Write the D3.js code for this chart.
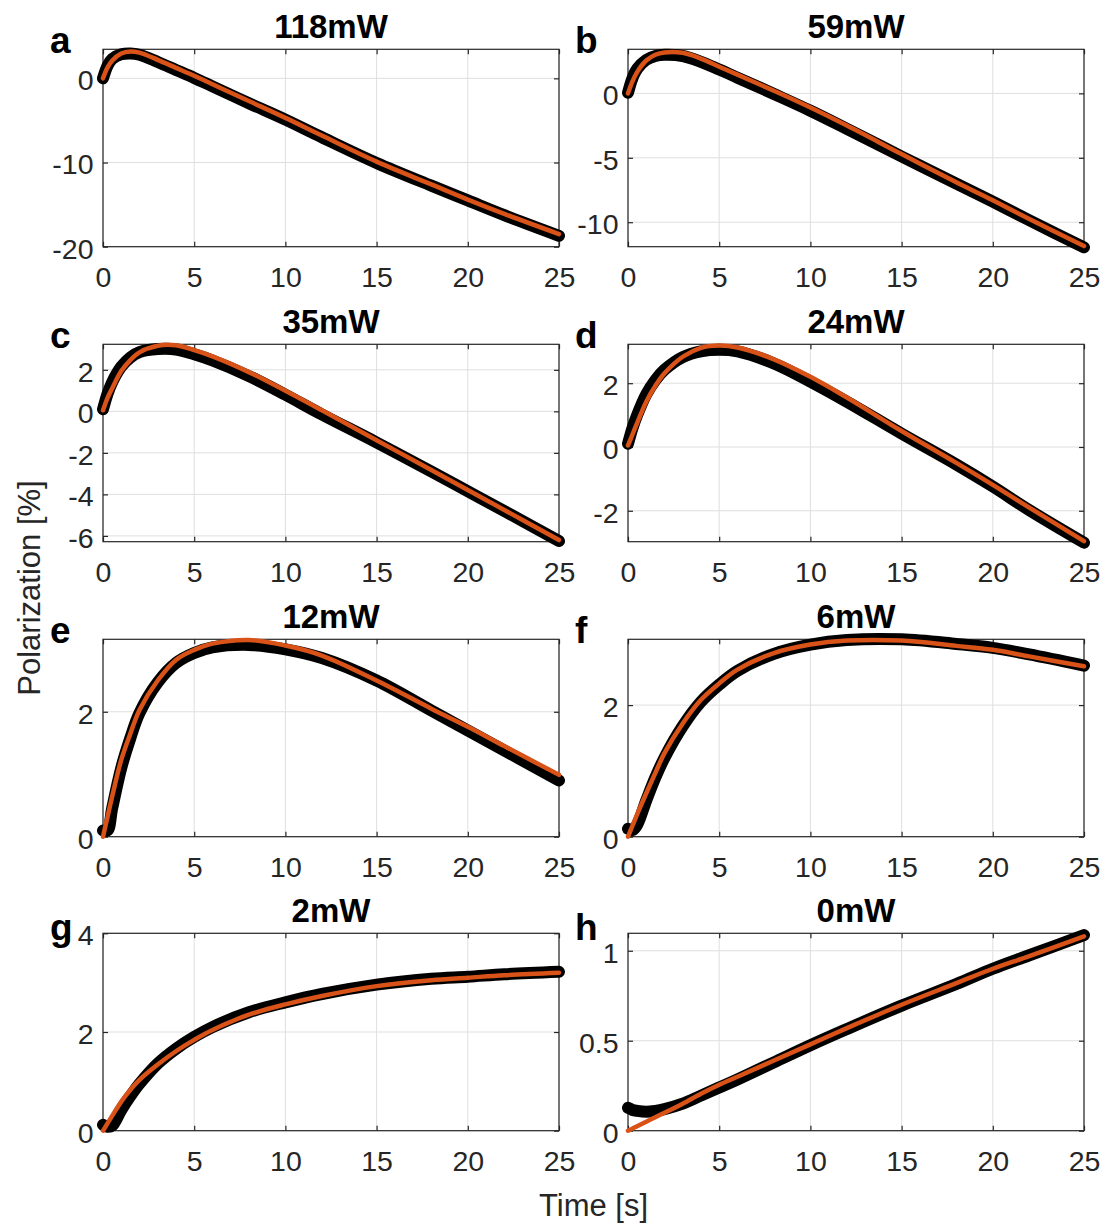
<!DOCTYPE html>
<html>
<head>
<meta charset="utf-8">
<script src="https://cdn.jsdelivr.net/npm/d3@7"></script>
<style>
  body { margin: 0; background: #fff; }
  text { font-family: "Liberation Sans", Arial, Helvetica, sans-serif; }
</style>
</head>
<body>
<script>
// Sample times (s) shared by every panel
var T = [0, 0.25, 0.5, 1, 1.5, 2, 3, 4, 5, 6, 8, 10, 12, 15, 18, 20, 22, 25];

// Panel letters and titles
var letters = ["a", "b", "c", "d", "e", "f", "g", "h"];
var titles = ["118mW", "59mW", "35mW", "24mW", "12mW", "6mW", "2mW", "0mW"];

// Measured polarization (%) - black markers
var measA = [0, 1.5, 2.3, 2.85, 2.95, 2.8, 1.95, 1.0, 0.05, -0.95, -2.95, -4.9, -7.0, -10.05, -12.75, -14.5, -16.25, -18.7];
var measB = [0.05, 1.2, 1.9, 2.6, 2.9, 3.0, 2.9, 2.45, 1.85, 1.22, -0.05, -1.35, -2.75, -4.9, -7.0, -8.4, -9.85, -11.95];
var measC = [0.1, 0.85, 1.4, 2.15, 2.6, 2.85, 3.0, 2.98, 2.75, 2.45, 1.7, 0.8, -0.15, -1.5, -2.9, -3.85, -4.8, -6.25];
var measD = [0.1, 0.6, 1.0, 1.65, 2.1, 2.42, 2.82, 3.0, 3.05, 3.0, 2.62, 2.05, 1.42, 0.42, -0.55, -1.24, -1.98, -3.0];
var measE = [0.1, 0.1, 0.45, 1.1, 1.58, 1.98, 2.47, 2.78, 2.94, 3.03, 3.07, 3.0, 2.86, 2.5, 2.02, 1.7, 1.38, 0.9];
var measF = [0.12, 0.1, 0.18, 0.55, 0.9, 1.2, 1.68, 2.05, 2.31, 2.52, 2.78, 2.92, 2.99, 3.0, 2.93, 2.87, 2.77, 2.6];
var measG = [0.12, 0.08, 0.1, 0.42, 0.7, 0.95, 1.36, 1.66, 1.9, 2.1, 2.4, 2.6, 2.77, 2.96, 3.08, 3.12, 3.17, 3.22];
var measH = [0.127, 0.115, 0.11, 0.105, 0.11, 0.12, 0.15, 0.195, 0.24, 0.285, 0.38, 0.475, 0.565, 0.695, 0.815, 0.9, 0.975, 1.087];

// Model fit (%) - orange line
var fitA = [0, 1.3, 2.1, 2.95, 3.2, 3.05, 2.2, 1.25, 0.3, -0.7, -2.7, -4.7, -6.8, -9.9, -12.6, -14.4, -16.1, -18.5];
var fitB = [0, 0.95, 1.65, 2.55, 3.0, 3.18, 3.15, 2.7, 2.07, 1.45, 0.2, -1.1, -2.5, -4.71, -6.9, -8.3, -9.75, -11.85];
var fitC = [0.05, 0.65, 1.1, 1.94, 2.47, 2.84, 3.16, 3.18, 2.95, 2.65, 1.89, 0.99, 0.05, -1.39, -2.83, -3.79, -4.75, -6.2];
var fitD = [0.05, 0.4, 0.75, 1.42, 1.92, 2.31, 2.83, 3.11, 3.18, 3.12, 2.75, 2.2, 1.55, 0.5, -0.5, -1.19, -1.9, -2.95];
var fitE = [0, 0.32, 0.64, 1.23, 1.65, 2.03, 2.5, 2.83, 2.99, 3.09, 3.15, 3.06, 2.9, 2.5, 2.05, 1.76, 1.45, 0.99];
var fitF = [0, 0.17, 0.34, 0.66, 0.97, 1.27, 1.72, 2.08, 2.33, 2.54, 2.79, 2.92, 2.98, 2.98, 2.9, 2.84, 2.74, 2.59];
var fitG = [0, 0.15, 0.3, 0.59, 0.83, 1.03, 1.34, 1.61, 1.84, 2.04, 2.35, 2.56, 2.73, 2.93, 3.05, 3.1, 3.15, 3.2];
var fitH = [0, 0.012, 0.025, 0.05, 0.075, 0.1, 0.15, 0.205, 0.255, 0.3, 0.39, 0.48, 0.57, 0.7, 0.82, 0.9, 0.97, 1.08];

// Axis limits and ticks
var xLimits = [0, 25];
var xTicks = [0, 5, 10, 15, 20, 25];
var yLimits = [[-20, 3.45], [-11.9, 3.42], [-6.28, 3.23], [-2.97, 3.22], [0, 3.16], [0, 3.0], [0, 4], [0, 1.097]];
var yTicks = [[-20, -10, 0], [-10, -5, 0], [-6, -4, -2, 0, 2], [-2, 0, 2], [0, 2], [0, 2], [0, 2, 4], [0, 0.5, 1]];

var measured = [measA, measB, measC, measD, measE, measF, measG, measH];
var fits = [fitA, fitB, fitC, fitD, fitE, fitF, fitG, fitH];

// Layout
var colLeft = [103, 628], plotW = 456;
var rowTop = [49.3, 344.3, 639.3, 933.3], plotH = 197.4;
var letterDy = [4, 4, 4, 7];
var axisColor = "#262626", gridColor = "#dfdfdf", fitColor = "#D95319";

var svg = d3.select("body").append("svg")
    .attr("width", 1106)
    .attr("height", 1226);

letters.forEach(function (letter, i) {
  var col = i % 2, row = Math.floor(i / 2);
  var left = colLeft[col], top = rowTop[row];

  var x = d3.scaleLinear().domain(xLimits).range([left, left + plotW]);
  var y = d3.scaleLinear().domain(yLimits[i]).range([top + plotH, top]);

  var g = svg.append("g");

  // grid
  g.selectAll(".gx").data(xTicks).enter().append("line")
      .attr("x1", function (d) { return x(d); }).attr("x2", function (d) { return x(d); })
      .attr("y1", top).attr("y2", top + plotH)
      .attr("stroke", gridColor).attr("stroke-width", 1);
  g.selectAll(".gy").data(yTicks[i]).enter().append("line")
      .attr("x1", left).attr("x2", left + plotW)
      .attr("y1", function (d) { return y(d); }).attr("y2", function (d) { return y(d); })
      .attr("stroke", gridColor).attr("stroke-width", 1);

  // axes (ticks inward, box on)
  var fmt = function (d) { return String(d); };
  var ax = [
    g.append("g").attr("transform", "translate(0," + (top + plotH) + ")")
        .call(d3.axisBottom(x).tickValues(xTicks).tickFormat(fmt).tickSizeInner(-5).tickSizeOuter(0).tickPadding(20)),
    g.append("g").attr("transform", "translate(" + left + ",0)")
        .call(d3.axisLeft(y).tickValues(yTicks[i]).tickFormat(fmt).tickSizeInner(-5).tickSizeOuter(0).tickPadding(9.5)),
    g.append("g").attr("transform", "translate(0," + top + ")")
        .call(d3.axisTop(x).tickValues(xTicks).tickFormat("").tickSizeInner(-5).tickSizeOuter(0)),
    g.append("g").attr("transform", "translate(" + (left + plotW) + ",0)")
        .call(d3.axisRight(y).tickValues(yTicks[i]).tickFormat("").tickSizeInner(-5).tickSizeOuter(0))
  ];
  ax.forEach(function (a) {
    a.select(".domain").remove();
    a.selectAll("line").attr("stroke", axisColor).attr("stroke-width", 1.2);
    a.selectAll("text").attr("fill", axisColor).style("font-size", "28.5px");
  });
  ax[1].selectAll("text").attr("dy", "0.4em");

  g.append("rect")
      .attr("x", left).attr("y", top)
      .attr("width", plotW).attr("height", plotH)
      .attr("fill", "none").attr("stroke", axisColor).attr("stroke-width", 1.2);

  // data and fit
  var line = d3.line()
      .x(function (d, j) { return x(T[j]); })
      .y(function (d) { return y(d); })
      .curve(d3.curveCatmullRom.alpha(0.5));

  g.append("path")
      .datum(measured[i])
      .attr("fill", "none")
      .attr("stroke", "#000")
      .attr("stroke-width", 12)
      .attr("stroke-linecap", "round")
      .attr("stroke-linejoin", "round")
      .attr("d", line);

  g.append("path")
      .datum(fits[i])
      .attr("fill", "none")
      .attr("stroke", fitColor)
      .attr("stroke-width", 4.5)
      .attr("stroke-linecap", "round")
      .attr("d", line);

  // title and panel letter
  g.append("text")
      .attr("x", left + plotW / 2)
      .attr("y", top - 11)
      .attr("text-anchor", "middle")
      .style("font-size", "33px")
      .style("font-weight", "bold")
      .attr("fill", "#000")
      .text(titles[i]);

  g.append("text")
      .attr("x", left - 53)
      .attr("y", top + letterDy[row])
      .style("font-size", "37px")
      .style("font-weight", "bold")
      .attr("fill", "#000")
      .text(letter);
});

// shared axis labels
svg.append("text")
    .attr("transform", "translate(40,588) rotate(-90)")
    .attr("text-anchor", "middle")
    .style("font-size", "31px")
    .attr("fill", axisColor)
    .text("Polarization [%]");

svg.append("text")
    .attr("x", 593.5)
    .attr("y", 1216)
    .attr("text-anchor", "middle")
    .style("font-size", "31px")
    .attr("fill", axisColor)
    .text("Time [s]");
</script>
</body>
</html>
